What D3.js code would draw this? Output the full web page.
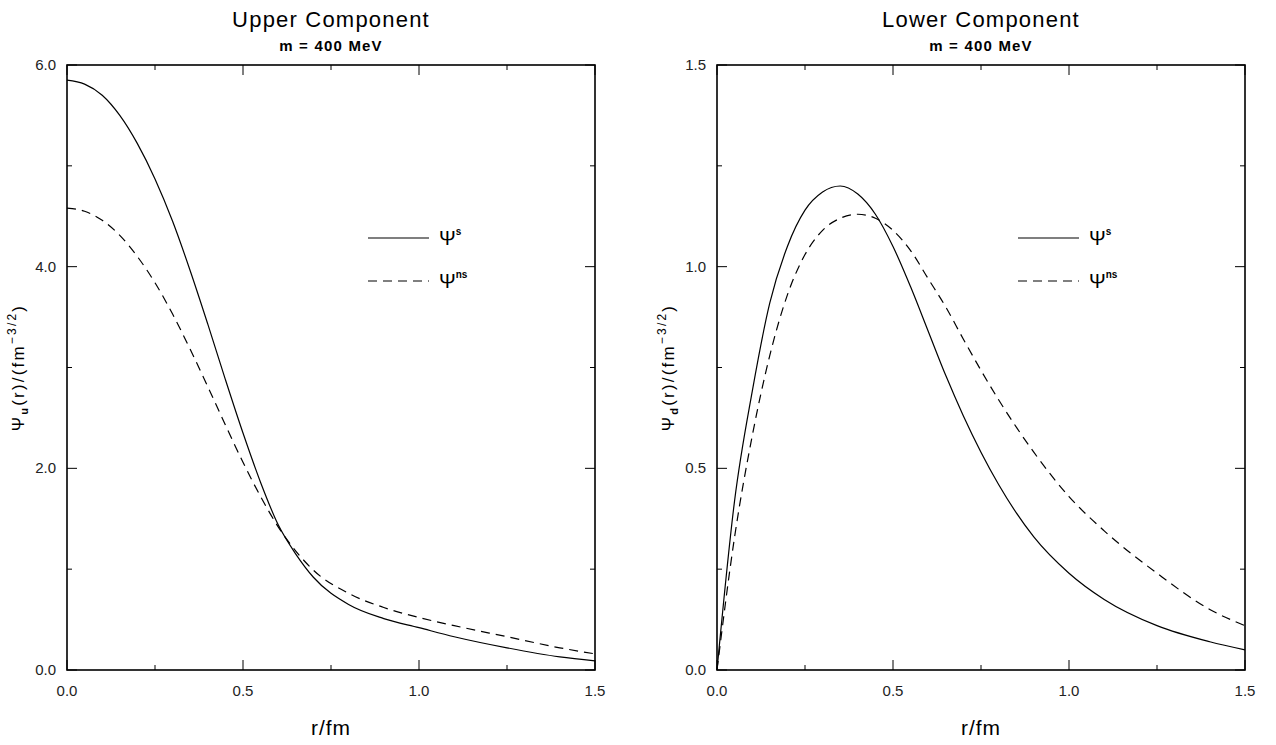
<!DOCTYPE html>
<html><head><meta charset="utf-8">
<script src="https://cdn.jsdelivr.net/npm/d3@7"></script>
<style>
html,body{margin:0;padding:0;background:#fff;}
svg text{font-family:"Liberation Sans",Arial,sans-serif;fill:#000;}
</style></head>
<body>
<svg id="c" width="1276" height="745"></svg>
<script>
// ---- data ----
const rGrid = [0,0.05,0.1,0.15,0.2,0.25,0.3,0.35,0.4,0.45,0.5,0.55,0.6,0.65,0.7,0.8,0.9,1.0,1.1,1.25,1.4,1.5];
const upperS  = [5.85,5.81,5.70,5.50,5.22,4.87,4.45,3.96,3.43,2.88,2.35,1.86,1.44,1.15,0.92,0.65,0.51,0.42,0.33,0.22,0.13,0.09];
const upperNS = [4.58,4.55,4.46,4.31,4.10,3.84,3.53,3.18,2.81,2.43,2.06,1.72,1.42,1.18,0.99,0.76,0.62,0.52,0.44,0.33,0.22,0.16];
const lowerS  = [0,0.42,0.69,0.91,1.05,1.14,1.185,1.20,1.18,1.13,1.05,0.95,0.84,0.73,0.63,0.46,0.33,0.24,0.175,0.11,0.07,0.05];
const lowerNS = [0,0.33,0.58,0.78,0.93,1.03,1.09,1.12,1.13,1.12,1.09,1.04,0.97,0.90,0.82,0.67,0.54,0.43,0.345,0.24,0.15,0.11];
const xTicks = [0,0.5,1.0,1.5];
const xMinor = [0.25,0.75,1.25];
const upperYTicks = [0,2,4,6];
const upperYMinor = [1,3,5];
const lowerYTicks = [0,0.5,1.0,1.5];
const lowerYMinor = [0.25,0.75,1.25];
const legendLabels = ["s","ns"];

const svg = d3.select("#c");

function panel(opt){
  const {x0,x1,y0,y1,title,sub,ymax,yTicks,yMinor,s,ns} = opt;
  const x = d3.scaleLinear().domain([0,1.5]).range([x0,x1]);
  const y = d3.scaleLinear().domain([0,ymax]).range([y1,y0]);
  const g = svg.append("g");
  g.append("rect").attr("x",x0).attr("y",y0).attr("width",x1-x0).attr("height",y1-y0)
    .attr("fill","none").attr("stroke","#000").attr("stroke-width",1.6);
  const major=10, minor=5;
  xTicks.forEach(t=>{
    g.append("line").attr("x1",x(t)).attr("x2",x(t)).attr("y1",y1).attr("y2",y1-major).attr("stroke","#000");
    g.append("line").attr("x1",x(t)).attr("x2",x(t)).attr("y1",y0).attr("y2",y0+major).attr("stroke","#000");
    g.append("text").attr("x",x(t)).attr("y",y1+26).attr("text-anchor","middle")
      .attr("font-size",15).style("fill","#222").text(d3.format(".1f")(t));
  });
  xMinor.forEach(t=>{
    g.append("line").attr("x1",x(t)).attr("x2",x(t)).attr("y1",y1).attr("y2",y1-minor).attr("stroke","#000");
    g.append("line").attr("x1",x(t)).attr("x2",x(t)).attr("y1",y0).attr("y2",y0+minor).attr("stroke","#000");
  });
  yTicks.forEach(t=>{
    g.append("line").attr("x1",x0).attr("x2",x0+major).attr("y1",y(t)).attr("y2",y(t)).attr("stroke","#000");
    g.append("line").attr("x1",x1).attr("x2",x1-major).attr("y1",y(t)).attr("y2",y(t)).attr("stroke","#000");
    g.append("text").attr("x",x0-11).attr("y",y(t)+5).attr("text-anchor","end")
      .attr("font-size",15).style("fill","#222").text(d3.format(".1f")(t));
  });
  yMinor.forEach(t=>{
    g.append("line").attr("x1",x0).attr("x2",x0+minor).attr("y1",y(t)).attr("y2",y(t)).attr("stroke","#000");
    g.append("line").attr("x1",x1).attr("x2",x1-minor).attr("y1",y(t)).attr("y2",y(t)).attr("stroke","#000");
  });
  const cx=(x0+x1)/2;
  g.append("text").attr("x",cx).attr("y",27).attr("text-anchor","middle").attr("font-size",22)
    .attr("letter-spacing",1.2).text(title);
  g.append("text").attr("x",cx).attr("y",51).attr("text-anchor","middle").attr("font-size",15)
    .attr("font-weight","bold").attr("letter-spacing",1.2).text("m = 400 MeV");
  g.append("text").attr("x",cx).attr("y",735).attr("text-anchor","middle").attr("font-size",21)
    .attr("letter-spacing",1).text("r/fm");
  const yl = g.append("text").attr("transform",`translate(${x0-43},${(y0+y1)/2}) rotate(-90)`)
    .attr("text-anchor","middle").attr("font-size",17).attr("letter-spacing",2.2);
  yl.append("tspan").text("\u03A8");
  yl.append("tspan").attr("font-size",11).attr("font-weight","bold").attr("dy",4).text(sub);
  yl.append("tspan").attr("dy",-4).text("(r)/(fm");
  yl.append("tspan").attr("font-size",12).attr("dy",-8).text("\u22123/2");
  yl.append("tspan").attr("dy",8).text(")");
  const line = d3.line().x((d,i)=>x(rGrid[i])).y(d=>y(d)).curve(d3.curveMonotoneX);
  g.append("path").attr("d",line(s)).attr("fill","none").attr("stroke","#000").attr("stroke-width",1.2);
  g.append("path").attr("d",line(ns)).attr("fill","none").attr("stroke","#000").attr("stroke-width",1.2)
    .attr("stroke-dasharray","9,6");
  const lx0 = x0+301, lx1 = x0+362;
  [[238,null,legendLabels[0]],[281,"9,6",legendLabels[1]]].forEach(([ly,dash,lab])=>{
    const l = g.append("line").attr("x1",lx0).attr("x2",lx1).attr("y1",ly).attr("y2",ly)
      .attr("stroke","#000").attr("stroke-width",1.2);
    if(dash) l.attr("stroke-dasharray",dash);
    const t = g.append("text").attr("x",lx1+10).attr("y",ly+7).attr("font-size",20);
    t.append("tspan").text("\u03A8");
    t.append("tspan").attr("font-size",10).attr("font-weight","bold").attr("dy",-10).text(lab);
  });
}

panel({x0:67,x1:595,y0:65,y1:670,title:"Upper Component",sub:"u",ymax:6,
  yTicks:upperYTicks,yMinor:upperYMinor,s:upperS,ns:upperNS});
panel({x0:717,x1:1245,y0:65,y1:670,title:"Lower Component",sub:"d",ymax:1.5,
  yTicks:lowerYTicks,yMinor:lowerYMinor,s:lowerS,ns:lowerNS});
</script>
</body></html>
